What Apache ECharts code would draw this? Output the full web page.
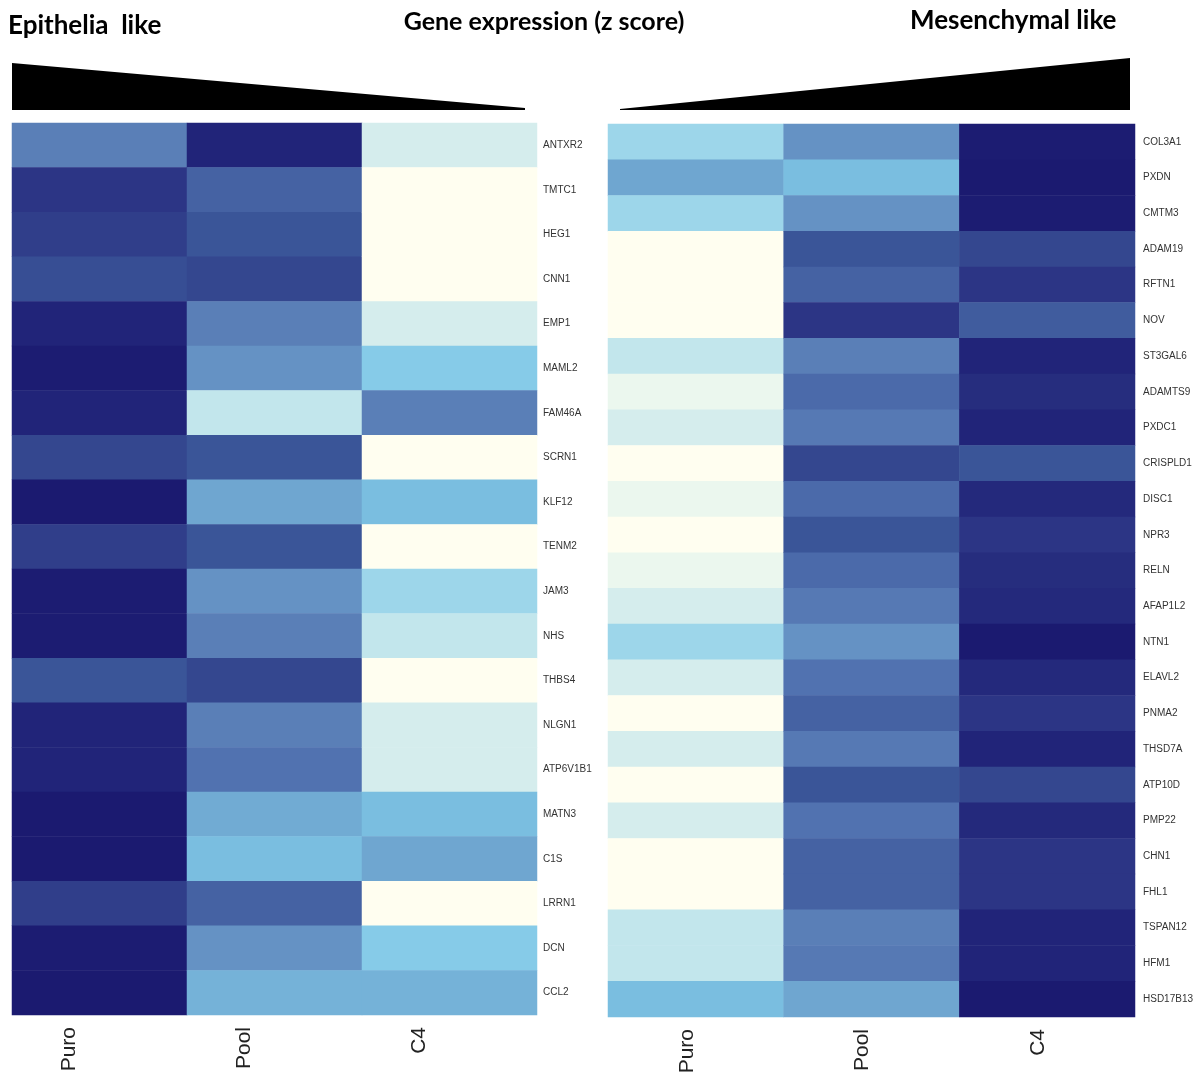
<!DOCTYPE html>
<html>
<head>
<meta charset="utf-8">
<script src="https://cdn.jsdelivr.net/npm/echarts@6/dist/echarts.min.js"></script>
<style>
html,body{margin:0;padding:0;background:#fff;}
#chart{width:1200px;height:1078px;}
</style>
</head>
<body>
<div id="chart"></div>
<script>
// Columns (samples)
const columns = ['Puro', 'Pool', 'C4'];

const epiGenes = ['ANTXR2','TMTC1','HEG1','CNN1','EMP1','MAML2','FAM46A','SCRN1','KLF12','TENM2',
                  'JAM3','NHS','THBS4','NLGN1','ATP6V1B1','MATN3','C1S','LRRN1','DCN','CCL2'];
const epiPuro = [9, 14, 13.5, 12.5, 16, 17, 16, 13, 17.5, 13.5, 17, 17, 12, 16, 16, 17.5, 17.5, 13.5, 17, 17.5];
const epiPool = [16, 11, 12, 13, 9, 8, 3, 12, 7, 12, 8, 9, 13, 9, 10, 6.8, 6, 11, 8, 6.5];
const epiC4   = [2, 0, 0, 0, 2, 5, 9, 0, 6, 0, 4, 3, 0, 2, 2, 6, 7, 0, 5, 6.5];

// Mesenchymal-like genes (right panel)
const mesGenes = ['COL3A1','PXDN','CMTM3','ADAM19','RFTN1','NOV','ST3GAL6','ADAMTS9','PXDC1','CRISPLD1',
                  'DISC1','NPR3','RELN','AFAP1L2','NTN1','ELAVL2','PNMA2','THSD7A','ATP10D','PMP22',
                  'CHN1','FHL1','TSPAN12','HFM1','HSD17B13'];
const mesPuro = [4, 7, 4, 0, 0, 0, 3, 1, 2, 0, 1, 0, 1, 2, 4, 2, 0, 2, 0, 2, 0, 0, 3, 3, 6];
const mesPool = [8, 6, 8, 12, 11, 14, 9, 10.5, 9.5, 13, 10.5, 12, 10.5, 9.5, 8, 10, 11, 9.5, 12, 10, 11, 11, 9, 9.5, 7];
const mesC4   = [17, 17.5, 17, 13, 14, 11.5, 16, 15, 16, 12, 15.5, 14, 15, 15.5, 17.5, 15.5, 14, 16, 13, 15.5, 14, 14, 16, 16, 17.5];

function toCells(puro, pool, c4) {
  const out = [];
  [puro, pool, c4].forEach(function (arr, ci) {
    arr.forEach(function (v, ri) { out.push([ci, ri, v]); });
  });
  return out;
}

const palette = ['#fffef0','#ebf7ee','#d5eded','#c2e6ec','#9dd6ea','#86cbe8','#7abee0','#6fa6d0',
                 '#6592c4','#5a7fb7','#5172b0','#4562a3','#3a5598','#34478f','#2c3585','#262d7e',
                 '#212479','#1c1c72','#1a186e'];

const chart = echarts.init(document.getElementById('chart'));

const yLabel = { fontSize: 10, color: '#333', fontFamily: 'Liberation Sans, Arial, sans-serif' };
const xLabelBase = { fontSize: 21, color: '#222', fontFamily: 'Liberation Sans, Arial, sans-serif', rotate: 90, margin: 12, verticalAlign: 'bottom' };
const titleStyle = { fontFamily: 'Lato, sans-serif', fontWeight: 'bold', fontSize: 25, color: '#000' };

chart.setOption({
  backgroundColor: '#fff',
  animation: false,
  title: [
    { text: 'Epithelia  like', left: 3, top: 8, textStyle: Object.assign({}, titleStyle, { fontSize: 26 }) },
    { text: 'Gene expression (z score)', left: 539, textAlign: 'center', top: 4, textStyle: titleStyle },
    { text: 'Mesenchymal like', left: 905, top: 3, textStyle: Object.assign({}, titleStyle, { fontSize: 26 }) }
  ],
  graphic: [
    { type: 'polygon', shape: { points: [[12, 63], [525, 108], [525, 110], [12, 110]] }, style: { fill: '#000' } },
    { type: 'polygon', shape: { points: [[620, 109], [1130, 58], [1130, 110], [620, 110]] }, style: { fill: '#000' } }
  ],
  grid: [
    { left: 12, right: 663, top: 123, bottom: 63 },
    { left: 608, right: 65, top: 124, bottom: 61 }
  ],
  xAxis: [
    { type: 'category', gridIndex: 0, data: columns, axisLine: { show: false }, axisTick: { show: false }, splitLine: { show: false },
      axisLabel: Object.assign({}, xLabelBase, { lineHeight: 60 }) },
    { type: 'category', gridIndex: 1, data: columns, axisLine: { show: false }, axisTick: { show: false }, splitLine: { show: false },
      axisLabel: Object.assign({}, xLabelBase, { lineHeight: 18 }) }
  ],
  yAxis: [
    { type: 'category', gridIndex: 0, data: epiGenes, inverse: true, position: 'right', axisLine: { show: false }, axisTick: { show: false },
      axisLabel: Object.assign({ margin: 6 }, yLabel) },
    { type: 'category', gridIndex: 1, data: mesGenes, inverse: true, position: 'right', axisLine: { show: false }, axisTick: { show: false },
      axisLabel: Object.assign({ margin: 8 }, yLabel) }
  ],
  visualMap: {
    show: false, type: 'continuous', min: 0, max: 18, seriesIndex: [0, 1],
    inRange: { color: palette }
  },
  series: [
    { type: 'heatmap', xAxisIndex: 0, yAxisIndex: 0, data: toCells(epiPuro, epiPool, epiC4), itemStyle: { borderWidth: 0 } },
    { type: 'heatmap', xAxisIndex: 1, yAxisIndex: 1, data: toCells(mesPuro, mesPool, mesC4), itemStyle: { borderWidth: 0 } }
  ]
});
</script>
</body>
</html>
